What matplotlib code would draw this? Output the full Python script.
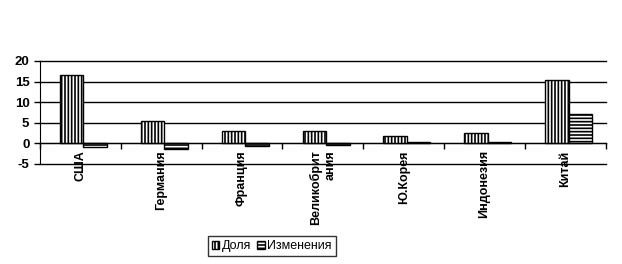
import numpy as np
import matplotlib.pyplot as plt
from matplotlib.ticker import FixedLocator

countries = ['США', 'Германия', 'Франция', 'Великобрит\nания', 'Ю.Корея', 'Индонезия', 'Китай']
share = [16.6, 5.4, 2.9, 2.9, 1.9, 2.6, 15.3]
change = [-0.9, -1.3, -0.7, -0.5, 0.3, 0.3, 7.2]

plt.rcParams['font.family'] = ['Liberation Sans', 'DejaVu Sans']
plt.rcParams['hatch.linewidth'] = 1.2

fig = plt.figure(figsize=(6.22, 2.64), dpi=100)
ax = fig.add_axes([0.064, 0.379, 0.91, 0.39])

x = np.arange(len(countries))
width = 0.29
ax.bar(x - width / 2 + 0.04, share, width, color='white', edgecolor='black',
       hatch='|||||', linewidth=1.0, label='Доля', zorder=3)
ax.bar(x + width / 2 + 0.04, change, width, color='white', edgecolor='black',
       hatch='-----', linewidth=1.0, label='Изменения', zorder=3)

ax.set_xlim(-0.5, len(countries) - 0.5)
ax.set_ylim(-5, 20)
ax.set_yticks([-5, 0, 5, 10, 15, 20])
ax.set_yticklabels(['-5', '0', '5', '10', '15', '20'], fontweight='bold', fontsize=9.5)
ax.yaxis.grid(True, color='black', linewidth=1.0, zorder=0)
for gl in ax.get_ygridlines():
    gl.set_clip_on(False)

ax.spines['top'].set_visible(False)
ax.spines['right'].set_visible(False)
ax.spines['bottom'].set_position(('data', 0))
ax.spines['bottom'].set_zorder(4)

ax.xaxis.set_major_locator(FixedLocator(np.arange(len(countries) + 1) - 0.5))
ax.xaxis.set_major_formatter(plt.NullFormatter())
ax.tick_params(axis='x', which='major', direction='out', length=4, width=1)
ax.xaxis.set_minor_locator(FixedLocator(x))
ax.set_xticklabels(countries, minor=True, rotation=90, fontweight='bold',
                   fontsize=9, va='top', ha='center', multialignment='right')
ax.tick_params(axis='x', which='minor', length=0, pad=5)
ax.tick_params(axis='y', direction='out', length=4, width=1)

ax.legend(loc='center', bbox_to_anchor=(0.437, 0.068), bbox_transform=fig.transFigure,
          ncol=2, frameon=True, fancybox=False, edgecolor='black', fontsize=9,
          handlelength=0.6, handleheight=0.6, handletextpad=0.2, columnspacing=0.5,
          borderpad=0.3, borderaxespad=0)

fig.savefig('out.png', dpi=100)
